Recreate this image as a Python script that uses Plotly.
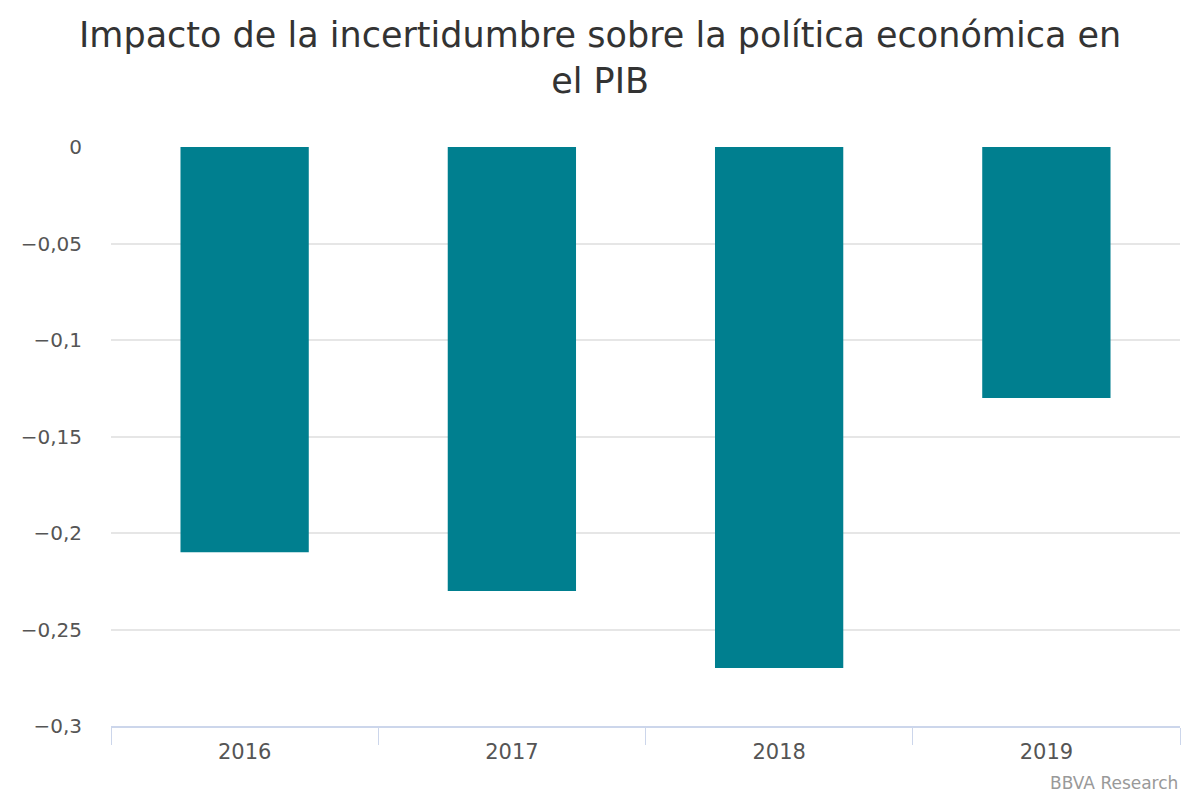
import plotly.graph_objects as go

years = ["2016", "2017", "2018", "2019"]
impact = [-0.21, -0.23, -0.27, -0.13]
ytick_vals = [0, -0.05, -0.1, -0.15, -0.2, -0.25, -0.3]
ytick_text = ["0", "−0,05", "−0,1", "−0,15", "−0,2", "−0,25", "−0,3"]
title_text = "Impacto de la incertidumbre sobre la política económica en<br>el PIB"
credit_text = "BBVA Research"

FONT = "DejaVu Sans"

fig = go.Figure()
fig.add_trace(go.Bar(
    x=years, y=impact,
    marker=dict(color="#007F8F", line=dict(width=0)),
    width=0.48,
    hoverinfo="x+y",
))

fig.update_layout(
    width=1200, height=800,
    paper_bgcolor="white", plot_bgcolor="white",
    margin=dict(l=111, r=20, t=147, b=74),
    font=dict(family=FONT, color="#555555"),
    showlegend=False,
    annotations=[
        dict(
            text=title_text, xref="paper", yref="paper",
            x=0.4574, y=1.232, xanchor="center", yanchor="top",
            showarrow=False, align="center",
            font=dict(family=FONT, size=35, color="#333333"),
        ),
        dict(
            text=credit_text, xref="paper", yref="paper",
            x=1.0, y=0, xanchor="right", yanchor="top", yshift=-45,
            showarrow=False, font=dict(family=FONT, size=17, color="#999999"),
        ),
    ],
)

fig.update_xaxes(
    type="category",
    showline=True, linecolor="#ccd6eb", linewidth=1.5,
    ticks="outside", tickson="boundaries", ticklen=17, tickcolor="#ccd6eb",
    tickfont=dict(size=21, color="#555555"),
    ticklabelstandoff=6,
    showgrid=False, zeroline=False,
)
fig.update_yaxes(
    range=[-0.3, 0],
    tickvals=ytick_vals, ticktext=ytick_text,
    tickfont=dict(size=20, color="#555555"),
    showgrid=True, gridcolor="#e6e6e6", gridwidth=1.5,
    zeroline=False, ticks="", ticklabelstandoff=28,
)

fig.write_html("out.html", config={"displayModeBar": False},
               post_script="document.body.style.margin='0';")
